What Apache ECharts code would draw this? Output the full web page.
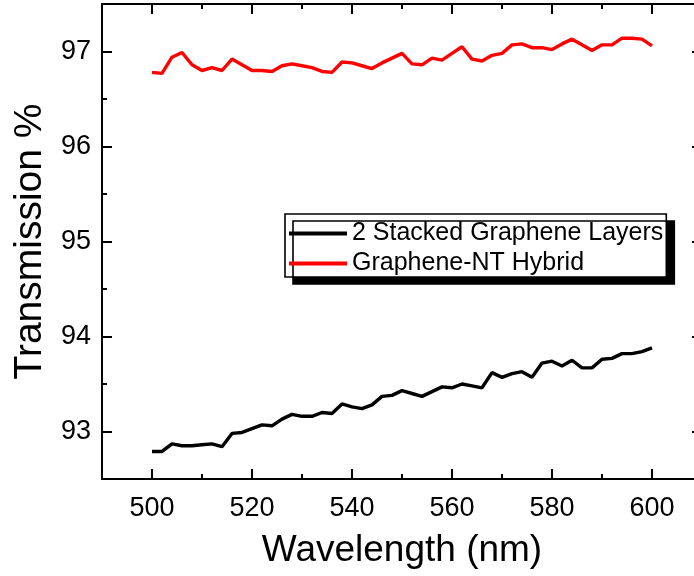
<!DOCTYPE html>
<html>
<head>
<meta charset="utf-8">
<title>Transmission spectra</title>
<script src="https://cdn.jsdelivr.net/npm/echarts@6/dist/echarts.min.js"></script>
<style>
  html, body { margin: 0; padding: 0; background: #fff; }
  #chart { width: 694px; height: 576px; }
</style>
</head>
<body>
<div id="chart"></div>
<script>
// Wavelength samples (nm)
const wavelengths = [500, 502, 504, 506, 508, 510, 512, 514, 516, 518,
  520, 522, 524, 526, 528, 530, 532, 534, 536, 538,
  540, 542, 544, 546, 548, 550, 552, 554, 556, 558,
  560, 562, 564, 566, 568, 570, 572, 574, 576, 578,
  580, 582, 584, 586, 588, 590, 592, 594, 596, 598, 600];

// Transmission (%) of two stacked graphene layers
const stackedLayers = [92.79, 92.79, 92.87, 92.85, 92.85, 92.86, 92.87, 92.84, 92.98, 92.99,
  93.03, 93.07, 93.06, 93.13, 93.18, 93.16, 93.16, 93.20, 93.19, 93.29,
  93.26, 93.24, 93.28, 93.37, 93.38, 93.43, 93.40, 93.37, 93.42, 93.47,
  93.46, 93.50, 93.48, 93.46, 93.62, 93.57, 93.61, 93.63, 93.57, 93.72,
  93.74, 93.69, 93.75, 93.67, 93.67, 93.76, 93.77, 93.82, 93.82, 93.84, 93.88];

// Transmission (%) of the graphene-nanotube hybrid film
const hybridFilm = [96.78, 96.77, 96.94, 96.99, 96.86, 96.80, 96.83, 96.80, 96.92, 96.86,
  96.80, 96.80, 96.79, 96.85, 96.87, 96.85, 96.83, 96.79, 96.78, 96.89,
  96.88, 96.85, 96.82, 96.88, 96.93, 96.98, 96.87, 96.86, 96.93, 96.91,
  96.98, 97.05, 96.92, 96.90, 96.96, 96.98, 97.07, 97.08, 97.04, 97.04,
  97.02, 97.08, 97.13, 97.07, 97.01, 97.07, 97.07, 97.14, 97.14, 97.13, 97.06];

const seriesNames = ['2 Stacked Graphene Layers', 'Graphene-NT Hybrid'];

const FONT = 'Liberation Sans, Arial, sans-serif';

function pairs(xs, ys) {
  return xs.map((x, i) => [x, ys[i]]);
}

const frameLine = { show: true, lineStyle: { color: '#000', width: 2 } };
const majorTick = { show: true, inside: true, length: 10, lineStyle: { color: '#000', width: 2 } };
const minorTick = { show: true, splitNumber: 2, length: 5, lineStyle: { color: '#000', width: 2 } };

function xAxisCfg(pos, withLabels) {
  return {
    type: 'value',
    position: pos,
    min: 490,
    max: 610,
    splitNumber: 6,
    axisLine: frameLine,
    axisTick: majorTick,
    minorTick: minorTick,
    splitLine: { show: false },
    minorSplitLine: { show: false },
    axisLabel: {
      show: withLabels,
      showMinLabel: false,
      showMaxLabel: false,
      margin: 16,
      color: '#000',
      fontSize: 27,
      fontFamily: FONT,
      formatter: v => (v % 20 === 0 ? String(v) : '')
    },
    name: withLabels ? 'Wavelength (nm)' : '',
    nameLocation: 'middle',
    nameGap: 53,
    nameTextStyle: { color: '#000', fontSize: 37, fontFamily: FONT }
  };
}

function yAxisCfg(pos, withLabels) {
  return {
    type: 'value',
    position: pos,
    min: 92.5,
    max: 97.5,
    splitNumber: 5,
    axisLine: frameLine,
    axisTick: majorTick,
    minorTick: minorTick,
    splitLine: { show: false },
    minorSplitLine: { show: false },
    axisLabel: {
      show: withLabels,
      showMinLabel: false,
      showMaxLabel: false,
      margin: 11,
      color: '#000',
      fontSize: 27,
      fontFamily: FONT,
      formatter: v => (Number.isInteger(v) ? String(v) : '')
    },
    name: withLabels ? 'Transmission %' : '',
    nameLocation: 'middle',
    nameGap: 52,
    nameTextStyle: { color: '#000', fontSize: 39, fontFamily: FONT }
  };
}

const chart = echarts.init(document.getElementById('chart'), null, { renderer: 'canvas' });

chart.setOption({
  backgroundColor: '#fff',
  animation: false,
  grid: {
    left: 102,
    right: -8,
    top: 4,
    bottom: 97,
    outerBoundsMode: 'none',
    containLabel: false
  },
  legend: {
    orient: 'vertical',
    left: 285,
    top: 214,
    data: seriesNames,
    icon: 'rect',
    itemWidth: 58,
    itemHeight: 4,
    itemGap: 5,
    padding: [7, 3, 1, 4],
    backgroundColor: '#fff',
    borderColor: '#000',
    borderWidth: 1.6,
    borderRadius: 0,
    shadowColor: '#000',
    shadowBlur: 0,
    shadowOffsetX: 8,
    shadowOffsetY: 7,
    textStyle: { color: '#000', fontSize: 25, fontFamily: FONT }
  },
  xAxis: [xAxisCfg('bottom', true), xAxisCfg('top', false)],
  yAxis: [yAxisCfg('left', true), yAxisCfg('right', false)],
  series: [
    {
      name: seriesNames[0],
      type: 'line',
      data: pairs(wavelengths, stackedLayers),
      showSymbol: false,
      symbol: 'none',
      lineStyle: { color: '#000', width: 3.4 },
      itemStyle: { color: '#000' }
    },
    {
      name: seriesNames[1],
      type: 'line',
      data: pairs(wavelengths, hybridFilm),
      showSymbol: false,
      symbol: 'none',
      lineStyle: { color: '#ff0000', width: 3.4 },
      itemStyle: { color: '#ff0000' }
    }
  ]
});
</script>
</body>
</html>
